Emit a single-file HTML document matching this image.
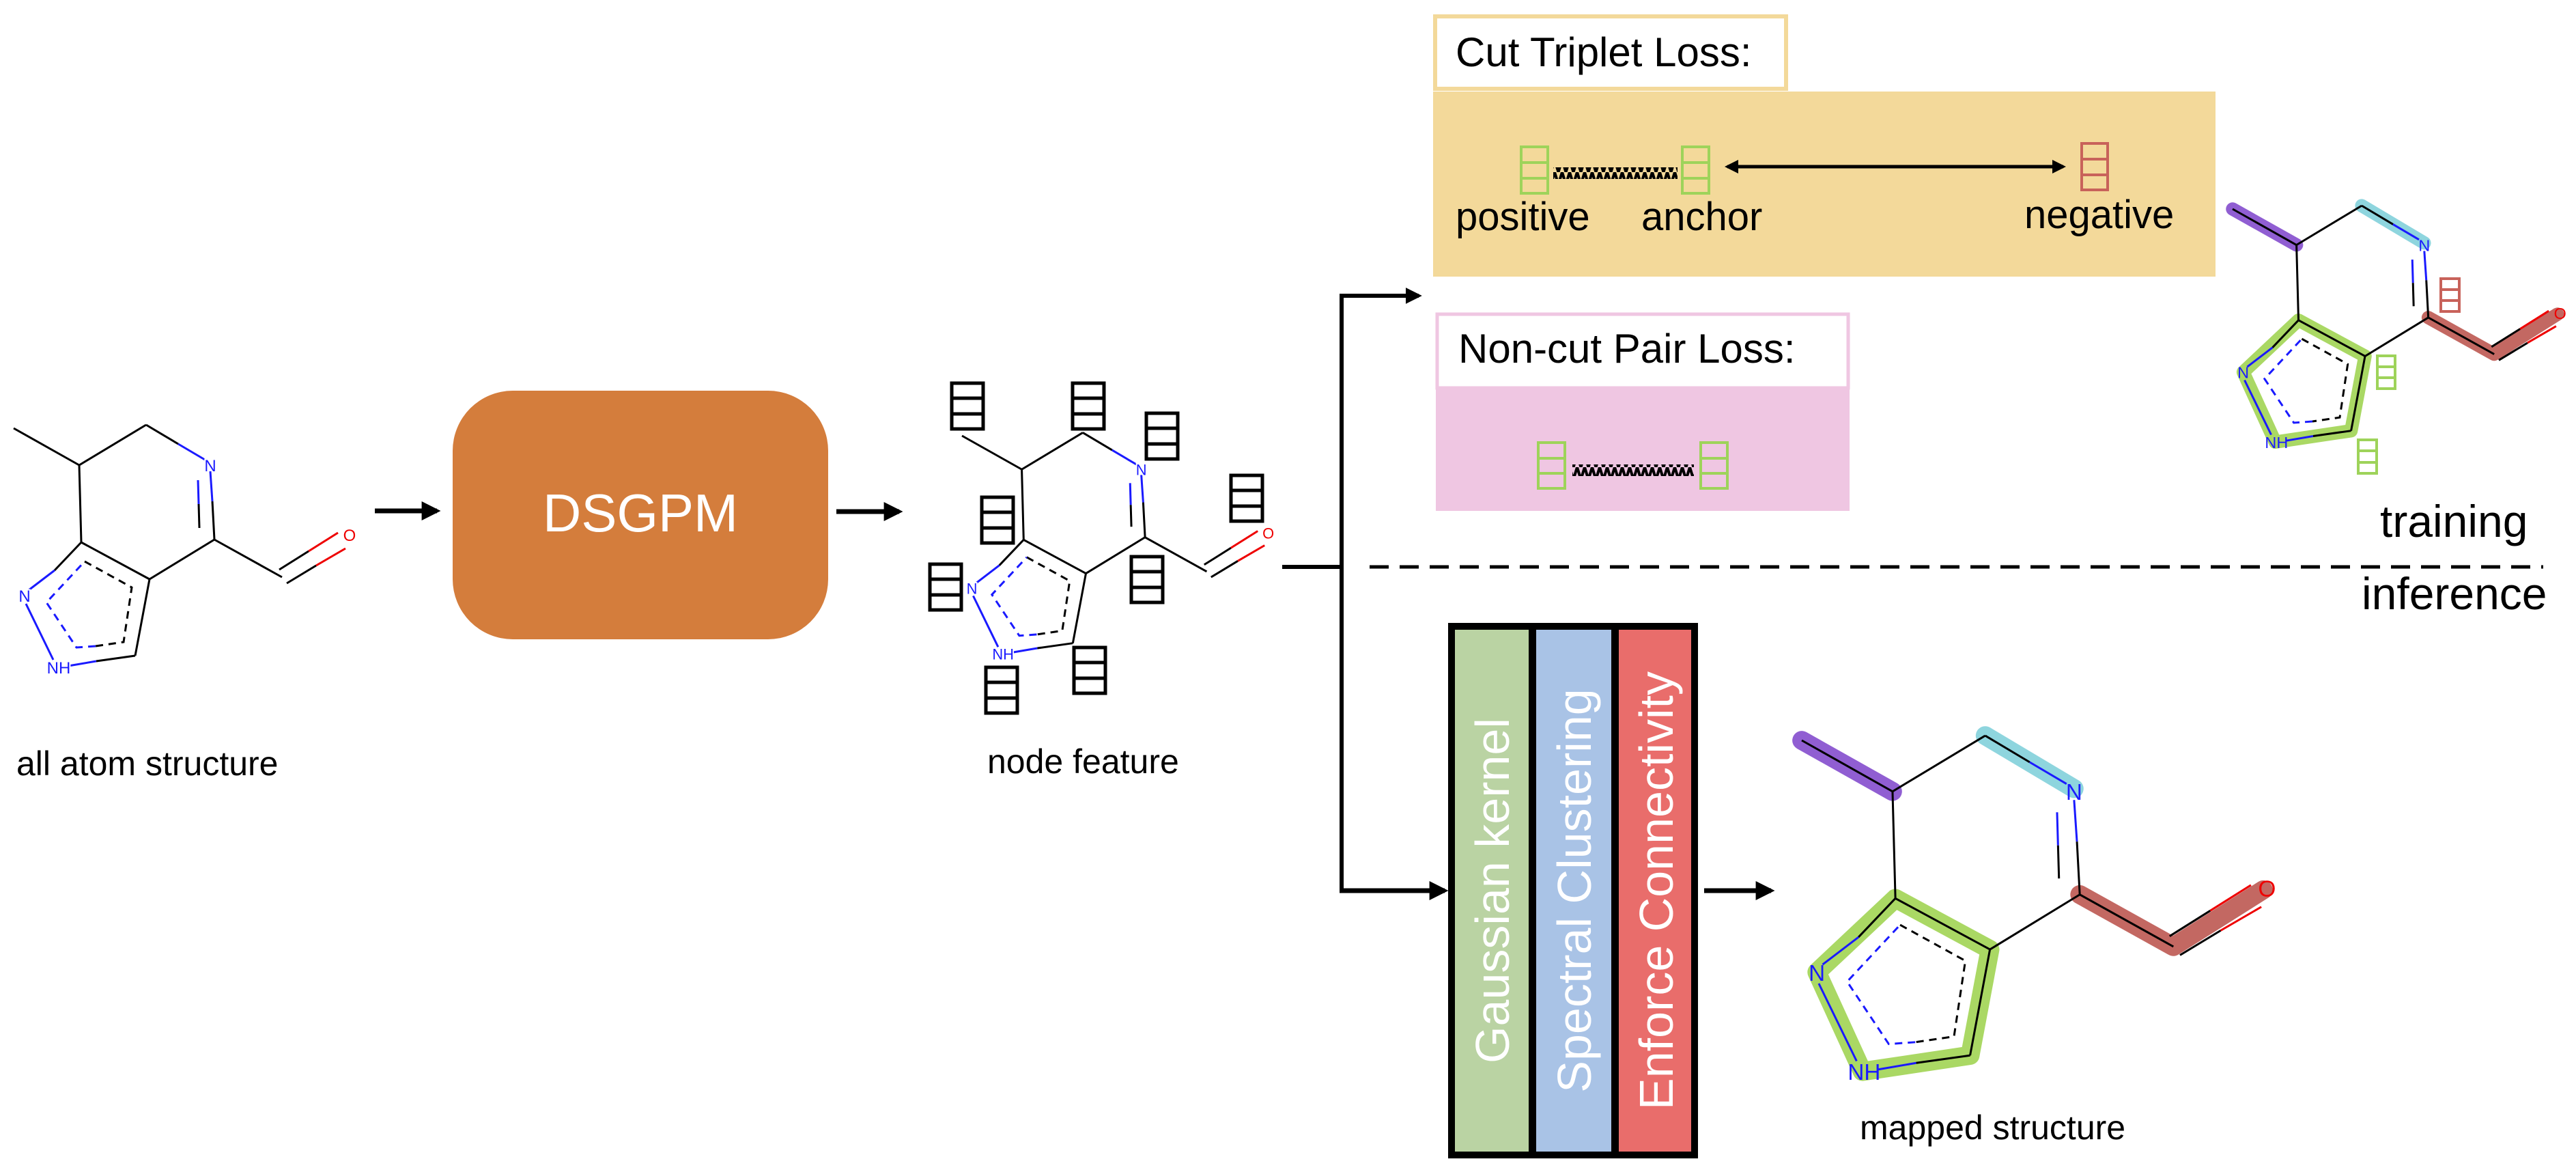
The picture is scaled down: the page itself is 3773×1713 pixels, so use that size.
<!DOCTYPE html>
<html><head><meta charset="utf-8"><style>
html,body{margin:0;padding:0;background:#fff;}
svg{display:block;}
text{font-family:"Liberation Sans",sans-serif;}
.b{stroke:#000;stroke-width:3;fill:none;vector-effect:non-scaling-stroke;}
.bl{stroke:#1a1aff;stroke-width:3;fill:none;vector-effect:non-scaling-stroke;}
.rd{stroke:#e00;stroke-width:3;fill:none;vector-effect:non-scaling-stroke;}
.lab{font-size:24px;stroke:#fff;stroke-width:4px;paint-order:stroke;}
</style></head><body>
<svg width="3773" height="1713" viewBox="0 0 3773 1713" xmlns="http://www.w3.org/2000/svg">
<defs>
<marker id="ah" markerWidth="4" markerHeight="4" refX="3.2" refY="2" orient="auto" markerUnits="strokeWidth"><path d="M0,0 L4,2 L0,4 Z" fill="#000"/></marker>
<marker id="ah2" markerWidth="4" markerHeight="4" refX="0.8" refY="2" orient="auto" markerUnits="strokeWidth"><path d="M4,0 L0,2 L4,4 Z" fill="#000"/></marker>
<pattern id="zz" width="11" height="18" patternUnits="userSpaceOnUse"><path d="M0,0 L5.5,18 L11,0" stroke="#000" stroke-width="4" fill="none"/></pattern>
<g id="bonds">
<line class="b" x1="20" y1="627" x2="116" y2="681"/>
<line class="b" x1="116" y1="681" x2="214" y2="622"/>
<line class="b" x1="214" y1="622" x2="261" y2="650"/>
<line class="bl" x1="261" y1="650" x2="300" y2="673"/>
<line class="bl" x1="308" y1="690" x2="311" y2="734"/>
<line class="b" x1="311" y1="734" x2="314" y2="790"/>
<line class="bl" x1="290" y1="703" x2="291" y2="738"/>
<line class="b" x1="291" y1="738" x2="292" y2="773"/>
<line class="b" x1="314" y1="790" x2="219" y2="848"/>
<line class="b" x1="219" y1="848" x2="119" y2="794"/>
<line class="b" x1="119" y1="794" x2="116" y2="681"/>
<line class="b" x1="119" y1="794" x2="80" y2="835"/>
<line class="bl" x1="80" y1="835" x2="42" y2="864"/>
<line class="bl" x1="38" y1="884" x2="78" y2="966"/>
<line class="bl" x1="100" y1="975" x2="141" y2="968"/>
<line class="b" x1="141" y1="968" x2="198" y2="960"/>
<line class="b" x1="198" y1="960" x2="219" y2="848"/>
<path class="b" d="M124,822 L193,860 L181,940 L140,946" stroke-dasharray="11,8"/>
<path class="bl" d="M140,946 L112,948 L68,882 L124,822" stroke-dasharray="11,8"/>
<line class="b" x1="314" y1="790" x2="413" y2="845"/>
<line class="b" x1="409" y1="834" x2="452" y2="807"/>
<line class="rd" x1="452" y1="807" x2="495" y2="780"/>
<line class="b" x1="420" y1="854" x2="463" y2="828"/>
<line class="rd" x1="463" y1="828" x2="506" y2="803"/>
</g>
<g id="vec"><rect x="0" y="0" width="46" height="67" fill="none" stroke="#000" stroke-width="5"/><line x1="0" y1="22" x2="46" y2="22" stroke="#000" stroke-width="5"/><line x1="0" y1="45" x2="46" y2="45" stroke="#000" stroke-width="5"/></g>
</defs>

<!-- molecule 1 -->
<use href="#bonds"/>
<g fill="#1a1aff"><text class="lab" x="308" y="690" text-anchor="middle">N</text><text class="lab" x="36" y="881" text-anchor="middle">N</text><text class="lab" x="86" y="986" text-anchor="middle">NH</text></g>
<text class="lab" x="512" y="792" text-anchor="middle" fill="#e00">O</text>
<text x="24" y="1135" font-size="50">all atom structure</text>

<line x1="549" y1="748" x2="640" y2="748" stroke="#000" stroke-width="7" marker-end="url(#ah)"/>
<rect x="663" y="572" width="550" height="364" rx="88" fill="#d47d3c"/>
<text x="938" y="778" font-size="78" fill="#fff" text-anchor="middle">DSGPM</text>
<line x1="1225" y1="749" x2="1317" y2="749" stroke="#000" stroke-width="7" marker-end="url(#ah)"/>

<!-- node feature molecule -->
<g transform="translate(1409,638) scale(0.912) translate(-20,-627)">
<use href="#bonds"/>
<g fill="#1a1aff"><text class="lab" x="308" y="690" text-anchor="middle">N</text><text class="lab" x="36" y="881" text-anchor="middle">N</text><text class="lab" x="86" y="986" text-anchor="middle">NH</text></g>
<text class="lab" x="512" y="792" text-anchor="middle" fill="#e00">O</text>
</g>
<use href="#vec" x="1394" y="561"/><use href="#vec" x="1571" y="561"/><use href="#vec" x="1679" y="605"/>
<use href="#vec" x="1803" y="696"/><use href="#vec" x="1438" y="728"/><use href="#vec" x="1362" y="826"/>
<use href="#vec" x="1657" y="815"/><use href="#vec" x="1573" y="948"/><use href="#vec" x="1444" y="977"/>
<text x="1446" y="1132" font-size="50">node feature</text>

<!-- branch -->
<line x1="1878" y1="830" x2="1965" y2="830" stroke="#000" stroke-width="6"/>
<line x1="1965" y1="433" x2="1965" y2="1304" stroke="#000" stroke-width="6"/>
<line x1="1962" y1="433" x2="2078" y2="433" stroke="#000" stroke-width="6" marker-end="url(#ah)"/>
<line x1="1962" y1="1304" x2="2116" y2="1304" stroke="#000" stroke-width="7" marker-end="url(#ah)"/>
<line x1="2006" y1="830" x2="3725" y2="830" stroke="#000" stroke-width="5" stroke-dasharray="28,16"/>

<!-- cut triplet -->
<rect x="2099" y="134" width="1146" height="271" fill="#f3d99a"/>
<rect x="2102" y="24" width="514" height="106" fill="#fff" stroke="#f3d99a" stroke-width="6"/>
<text x="2132" y="97" font-size="60">Cut Triplet Loss:</text>
<g fill="none" stroke="#9ed35a" stroke-width="4">
<rect x="2228" y="215" width="39" height="68"/><line x1="2228" y1="238" x2="2267" y2="238"/><line x1="2228" y1="261" x2="2267" y2="261"/>
<rect x="2464" y="215" width="39" height="68"/><line x1="2464" y1="238" x2="2503" y2="238"/><line x1="2464" y1="261" x2="2503" y2="261"/>
</g>
<g fill="none" stroke="#c8625a" stroke-width="4">
<rect x="3049" y="210" width="38" height="68"/><line x1="3049" y1="233" x2="3087" y2="233"/><line x1="3049" y1="256" x2="3087" y2="256"/>
</g>
<rect x="2275" y="245" width="182" height="17" fill="url(#zz)"/>
<line x1="2530" y1="244" x2="3022" y2="244" stroke="#000" stroke-width="5" marker-start="url(#ah2)" marker-end="url(#ah)"/>
<text x="2132" y="337" font-size="58">positive</text>
<text x="2404" y="337" font-size="58">anchor</text>
<text x="2965" y="334" font-size="58">negative</text>

<!-- non-cut -->
<rect x="2103" y="570" width="606" height="178" fill="#efc6e2"/>
<rect x="2105" y="460" width="602" height="108" fill="#fff" stroke="#efc6e2" stroke-width="5"/>
<text x="2136" y="531" font-size="60">Non-cut Pair Loss:</text>
<g fill="none" stroke="#9ed35a" stroke-width="4">
<rect x="2253" y="648" width="39" height="67"/><line x1="2253" y1="671" x2="2292" y2="671"/><line x1="2253" y1="693" x2="2292" y2="693"/>
<rect x="2491" y="648" width="39" height="67"/><line x1="2491" y1="671" x2="2530" y2="671"/><line x1="2491" y1="693" x2="2530" y2="693"/>
</g>
<rect x="2303" y="680" width="178" height="17" fill="url(#zz)"/>

<!-- training molecule -->
<g transform="translate(3270,306) scale(0.975) translate(-20,-627)">
<g fill="none" stroke-linecap="round" stroke-linejoin="round" stroke-width="20" opacity="0.95">
<line x1="20" y1="627" x2="116" y2="681" stroke="#8a55d0"/>
<line x1="214" y1="622" x2="308" y2="678" stroke="#88d3dc"/>
<path d="M119,794 L36,872 L84,977 L198,960 L219,848 Z" stroke="#a5d65c"/>
<path d="M314,790 L413,845 L508,785" stroke="#c0605a"/>
</g>
<use href="#bonds"/>
<g fill="#1a1aff"><text class="lab" x="308" y="690" text-anchor="middle" style="stroke:none">N</text><text class="lab" x="36" y="881" text-anchor="middle" style="stroke:none">N</text><text class="lab" x="86" y="986" text-anchor="middle" style="stroke:none">NH</text></g>
<text class="lab" x="512" y="792" text-anchor="middle" fill="#e00" style="stroke:none">O</text>
</g>
<g fill="none" stroke-width="4">
<g stroke="#c8625a"><rect x="3575" y="408" width="27" height="48"/><line x1="3575" y1="424" x2="3602" y2="424"/><line x1="3575" y1="440" x2="3602" y2="440"/></g>
<g stroke="#9ed35a"><rect x="3482" y="521" width="26" height="48"/><line x1="3482" y1="537" x2="3508" y2="537"/><line x1="3482" y1="553" x2="3508" y2="553"/>
<rect x="3454" y="644" width="27" height="49"/><line x1="3454" y1="660" x2="3481" y2="660"/><line x1="3454" y1="677" x2="3481" y2="677"/></g>
</g>
<text x="3486" y="786" font-size="66">training</text>
<text x="3459" y="892" font-size="66">inference</text>

<!-- block -->
<rect x="2121" y="912" width="366" height="784" fill="#000"/>
<rect x="2131" y="922" width="108" height="764" fill="#bad3a3"/>
<rect x="2250" y="922" width="110" height="764" fill="#a9c3e6"/>
<rect x="2371" y="922" width="106" height="764" fill="#e96d6b"/>
<g font-size="70" fill="#fff" text-anchor="middle">
<text transform="translate(2210,1304) rotate(-90)">Gaussian kernel</text>
<text transform="translate(2330,1304) rotate(-90)">Spectral Clustering</text>
<text transform="translate(2450,1304) rotate(-90)">Enforce Connectivity</text>
</g>
<line x1="2496" y1="1304" x2="2594" y2="1304" stroke="#000" stroke-width="7" marker-end="url(#ah)"/>

<!-- mapped molecule -->
<g transform="translate(2639,1084) scale(1.385) translate(-20,-627)">
<g fill="none" stroke-linecap="round" stroke-linejoin="round" stroke-width="20" opacity="0.95">
<line x1="20" y1="627" x2="116" y2="681" stroke="#8a55d0"/>
<line x1="214" y1="622" x2="308" y2="678" stroke="#88d3dc"/>
<path d="M119,794 L36,872 L84,977 L198,960 L219,848 Z" stroke="#a5d65c"/>
<path d="M314,790 L413,845 L508,785" stroke="#c0605a"/>
</g>
<use href="#bonds"/>
<g fill="#1a1aff"><text class="lab" x="308" y="690" text-anchor="middle" style="stroke:none">N</text><text class="lab" x="36" y="881" text-anchor="middle" style="stroke:none">N</text><text class="lab" x="86" y="986" text-anchor="middle" style="stroke:none">NH</text></g>
<text class="lab" x="512" y="792" text-anchor="middle" fill="#e00" style="stroke:none">O</text>
</g>
<text x="2724" y="1668" font-size="50">mapped structure</text>
</svg>
</body></html>
